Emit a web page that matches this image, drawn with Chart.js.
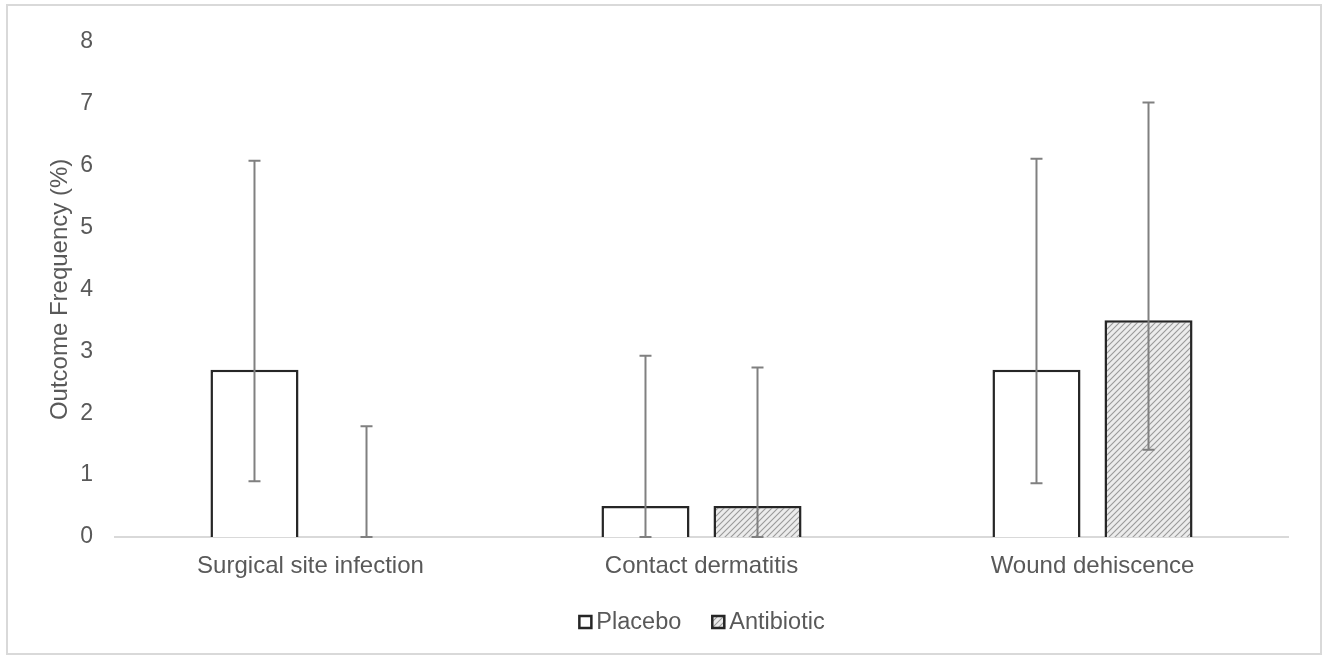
<!DOCTYPE html>
<html lang="en">
<head>
    <meta charset="UTF-8">
    <title>Outcome Frequency</title>
    <script src="https://cdn.jsdelivr.net/npm/chart.js"></script>
    <style>
        html, body {
            margin: 0;
            padding: 0;
            background: #fff;
        }
        .frame {
            position: absolute;
            left: 6px;
            top: 4px;
            width: 1316px;
            height: 651px;
            box-sizing: border-box;
            border: 2px solid #d9d9d9;
        }
        .chart-container {
            position: relative;
            width: 1312px;
            height: 647px;
        }
    </style>
</head>
<body>
    <div class="frame">
        <div class="chart-container">
            <canvas id="outcomeChart"></canvas>
        </div>
    </div>
    <script>
        const categories = ['Surgical site infection', 'Contact dermatitis', 'Wound dehiscence'];
        const seriesNames = ['Placebo', 'Antibiotic'];
        const placeboValues = [2.7, 0.5, 2.7];
        const antibioticValues = [0, 0.5, 3.5];
        const placeboLower = [0.9, 0, 0.87];
        const placeboUpper = [6.08, 2.93, 6.11];
        const antibioticLower = [0, 0, 1.41];
        const antibioticUpper = [1.79, 2.74, 7.02];
        const yTicks = [0, 1, 2, 3, 4, 5, 6, 7, 8];

        const textColor = '#595959';
        const fontFamily = '"Liberation Sans", Arial, sans-serif';

        // diagonal hatch used for the antibiotic bars
        function makeHatch() {
            const c = document.createElement('canvas');
            c.width = 6;
            c.height = 6;
            const g = c.getContext('2d');
            g.fillStyle = '#ececec';
            g.fillRect(0, 0, 6, 6);
            g.strokeStyle = '#9a9a9a';
            g.lineWidth = 1.1;
            g.beginPath();
            g.moveTo(0, 6); g.lineTo(6, 0);
            g.moveTo(-1, 1); g.lineTo(1, -1);
            g.moveTo(5, 7); g.lineTo(7, 5);
            g.stroke();
            return g.createPattern(c, 'repeat');
        }
        const hatch = makeHatch();

        const errorBars = {
            id: 'errorBars',
            afterDatasetsDraw(chart) {
                const ctx = chart.ctx;
                const y = chart.scales.y;
                chart.data.datasets.forEach((ds, di) => {
                    const meta = chart.getDatasetMeta(di);
                    meta.data.forEach((bar, i) => {
                        const x = bar.x;
                        const yl = y.getPixelForValue(ds.errLow[i]);
                        const yh = y.getPixelForValue(ds.errHigh[i]);
                        ctx.save();
                        ctx.strokeStyle = '#808080';
                        ctx.lineWidth = 2;
                        ctx.beginPath();
                        ctx.moveTo(x, yl);
                        ctx.lineTo(x, yh);
                        ctx.moveTo(x - 6, yh);
                        ctx.lineTo(x + 6, yh);
                        ctx.moveTo(x - 6, yl);
                        ctx.lineTo(x + 6, yl);
                        ctx.stroke();
                        ctx.restore();
                    });
                });
            }
        };

        const bottomLegend = {
            id: 'bottomLegend',
            afterDraw(chart) {
                const ctx = chart.ctx;
                const area = chart.chartArea;
                const box = 14, gap = 4, spacing = 30;
                const cy = 616;
                ctx.save();
                ctx.font = '23.5px ' + fontFamily;
                const widths = seriesNames.map(n => box + gap + ctx.measureText(n).width);
                const total = widths.reduce((a, b) => a + b, 0) + spacing * (widths.length - 1);
                let x = (area.left + area.right) / 2 - total / 2;
                chart.data.datasets.forEach((ds, i) => {
                    ctx.fillStyle = ds.backgroundColor;
                    ctx.fillRect(x, cy - box / 2, box, box);
                    ctx.strokeStyle = '#262626';
                    ctx.lineWidth = 2.5;
                    ctx.strokeRect(x + 1, cy - box / 2 + 1, box - 2, box - 2);
                    ctx.fillStyle = textColor;
                    ctx.textBaseline = 'middle';
                    ctx.textAlign = 'left';
                    ctx.fillText(seriesNames[i], x + box + gap, cy + 1);
                    x += widths[i] + spacing;
                });
                ctx.restore();
            }
        };

        new Chart(document.getElementById('outcomeChart').getContext('2d'), {
            type: 'bar',
            data: {
                labels: categories,
                datasets: [
                    {
                        label: seriesNames[0],
                        data: placeboValues,
                        errLow: placeboLower,
                        errHigh: placeboUpper,
                        backgroundColor: '#ffffff',
                        borderColor: '#262626',
                        borderWidth: 2.5
                    },
                    {
                        label: seriesNames[1],
                        data: antibioticValues,
                        errLow: antibioticLower,
                        errHigh: antibioticUpper,
                        backgroundColor: hatch,
                        borderColor: '#262626',
                        borderWidth: 2.5
                    }
                ]
            },
            options: {
                responsive: true,
                maintainAspectRatio: false,
                animation: false,
                layout: {
                    padding: { left: 0, right: 32, top: 31, bottom: 0 }
                },
                datasets: {
                    bar: {
                        categoryPercentage: 0.573,
                        barPercentage: 0.786
                    }
                },
                scales: {
                    x: {
                        grid: { display: false, drawTicks: false },
                        border: { display: true, color: '#d9d9d9', width: 2 },
                        ticks: {
                            color: textColor,
                            font: { family: fontFamily, size: 24 },
                            padding: 15,
                            maxRotation: 0
                        },
                        afterFit: (scale) => { scale.height = 116; }
                    },
                    y: {
                        min: 0,
                        max: 8,
                        afterBuildTicks: (scale) => {
                            scale.ticks = yTicks.map(v => ({ value: v }));
                        },
                        grid: { display: false, drawTicks: false },
                        border: { display: false },
                        ticks: {
                            color: textColor,
                            font: { family: fontFamily, size: 23 },
                            padding: 22
                        },
                        title: {
                            display: true,
                            text: 'Outcome Frequency (%)',
                            color: textColor,
                            font: { family: fontFamily, size: 24 },
                            padding: { top: 38, bottom: 0 }
                        },
                        afterFit: (scale) => { scale.width = 107; }
                    }
                },
                plugins: {
                    legend: { display: false },
                    tooltip: { enabled: false }
                }
            },
            plugins: [errorBars, bottomLegend]
        });
    </script>
</body>
</html>
